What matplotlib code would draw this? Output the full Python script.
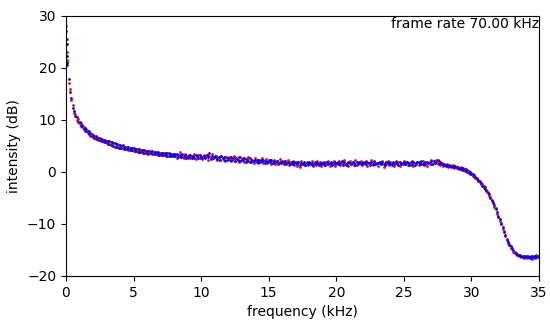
import numpy as np
import matplotlib
matplotlib.use('Agg')
import matplotlib.pyplot as plt

'''
Spectrum of two recordings, frame rate 70 kHz.
Values read off the reference picture, 0.1 kHz bins plus a few near 0.
'''

# first bins near 0 kHz
f_low = [0.0, 0.02, 0.04, 0.06, 0.08]
red_low = [31.0, 28.0, 25.5, 23.0, 21.6]
blue_low = [30.5, 27.2, 24.6, 22.4, 20.9]

# bins from 0.1 to 35.0 kHz, one row per kHz
red_db = [
    21.3, 17.2, 15.9, 13.8, 12.9, 11.4, 11.1, 10.0, 10.2, 9.3,
    9.4, 8.6, 8.7, 7.9, 8.2, 7.5, 7.8, 7.0, 7.3, 6.7,
    7.0, 6.4, 6.7, 6.1, 6.5, 5.9, 6.3, 5.8, 6.1, 5.5,
    5.9, 5.4, 5.7, 5.2, 5.5, 4.9, 5.3, 4.8, 5.1, 4.6,
    5.0, 4.6, 4.9, 4.4, 4.8, 4.3, 4.7, 4.2, 4.6, 4.1,
    4.5, 4.0, 4.4, 3.9, 4.3, 3.8, 4.2, 3.7, 4.1, 3.6,
    4.0, 3.6, 3.9, 3.5, 3.9, 3.4, 3.8, 3.3, 3.7, 3.3,
    3.7, 3.2, 3.6, 3.1, 3.6, 3.1, 3.5, 3.0, 3.4, 3.0,
    3.5, 2.7, 3.3, 3.8, 2.8, 3.2, 2.6, 3.4, 3.0, 2.7,
    3.3, 2.6, 3.1, 2.9, 3.5, 2.5, 3.0, 3.3, 2.7, 3.1,
    2.5, 3.2, 2.8, 3.3, 2.4, 3.0, 2.7, 3.4, 2.6, 2.9,
    3.1, 2.4, 2.8, 2.3, 3.0, 2.6, 2.9, 2.2, 2.8, 2.5,
    2.9, 2.1, 2.6, 3.0, 2.2, 2.7, 2.4, 2.0, 2.8, 2.3,
    2.6, 1.9, 2.5, 2.1, 2.8, 2.0, 2.4, 2.2, 1.8, 2.6,
    2.3, 1.7, 2.4, 2.0, 2.6, 1.8, 2.2, 2.5, 1.7, 2.1,
    2.4, 1.6, 2.0, 2.3, 1.5, 2.2, 1.8, 2.5, 1.7, 2.0,
    1.5, 2.2, 1.8, 2.3, 1.4, 2.0, 1.6, 2.2, 1.3, 1.9,
    1.2, 1.9, 0.9, 2.1, 1.5, 1.8, 1.3, 2.0, 1.4, 1.8,
    1.5, 2.1, 1.2, 1.8, 1.3, 2.2, 1.5, 1.7, 1.1, 1.9,
    1.4, 2.0, 1.5, 2.2, 1.2, 1.7, 1.6, 2.1, 1.2, 1.8,
    1.6, 2.2, 1.3, 1.9, 1.5, 2.3, 1.4, 1.8, 1.2, 2.1,
    1.5, 2.0, 1.3, 2.3, 1.4, 1.8, 1.7, 2.2, 1.3, 1.9,
    1.6, 2.1, 1.2, 1.8, 1.7, 2.3, 1.4, 1.9, 1.5, 1.8,
    1.1, 1.9, 1.5, 2.2, 1.0, 1.8, 1.6, 2.1, 1.3, 2.0,
    1.4, 1.8, 1.2, 2.1, 1.6, 2.0, 1.2, 1.8, 1.5, 2.1,
    1.6, 1.9, 1.3, 1.8, 1.4, 2.2, 1.1, 1.7, 1.6, 2.0,
    1.3, 1.8, 1.6, 2.2, 1.4, 1.9, 1.2, 1.8, 1.6, 2.3,
    1.5, 2.2, 1.7, 2.4, 1.5, 2.1, 1.4, 1.8, 1.2, 1.6,
    1.1, 1.5, 1.0, 1.4, 0.9, 1.3, 0.8, 1.2, 0.7, 1.0,
    0.6, 0.9, 0.4, 0.7, 0.2, 0.5, 0.0, 0.2, -0.3, -0.2,
    -0.7, -0.6, -1.2, -1.1, -1.8, -1.7, -2.4, -2.3, -3.0, -2.9,
    -3.7, -3.8, -4.6, -4.8, -5.6, -5.8, -6.7, -7.0, -8.0, -8.4,
    -9.4, -9.8, -10.9, -11.4, -12.4, -12.8, -13.7, -13.9, -14.6, -14.7,
    -15.3, -15.3, -15.8, -15.7, -16.2, -16.0, -16.4, -16.2, -16.5, -16.2,
    -16.5, -16.2, -16.6, -16.1, -16.8, -16.2, -16.5, -16.0, -16.4, -16.1,
]

blue_db = [
    20.6, 17.8, 15.3, 14.3, 12.4, 11.8, 10.7, 10.5, 9.7, 9.6,
    8.9, 9.0, 8.3, 8.4, 7.8, 7.9, 7.3, 7.5, 6.9, 7.1,
    6.6, 6.9, 6.3, 6.6, 6.2, 6.4, 5.9, 6.2, 5.8, 5.9,
    5.4, 5.9, 5.2, 5.7, 5.0, 5.5, 4.9, 5.3, 4.7, 5.1,
    4.6, 5.1, 4.5, 4.9, 4.4, 4.8, 4.2, 4.7, 4.2, 4.6,
    4.0, 4.5, 3.9, 4.4, 3.9, 4.3, 3.7, 4.2, 3.7, 4.1,
    3.5, 4.0, 3.6, 4.0, 3.4, 3.9, 3.4, 3.8, 3.3, 3.7,
    3.3, 3.7, 3.2, 3.6, 3.1, 3.6, 3.0, 3.5, 3.0, 3.4,
    3.0, 3.4, 2.8, 3.3, 2.9, 3.5, 2.8, 3.2, 2.6, 3.1,
    2.8, 3.3, 2.7, 3.1, 2.6, 3.2, 3.0, 2.7, 3.3, 2.9,
    2.6, 3.1, 2.7, 3.2, 2.8, 3.7, 2.5, 3.0, 2.6, 3.1,
    2.9, 2.5, 2.8, 2.4, 3.0, 2.6, 2.4, 2.9, 2.3, 2.7,
    2.4, 2.8, 2.3, 2.7, 2.1, 2.6, 2.4, 2.8, 2.1, 2.5,
    2.3, 2.6, 2.0, 2.5, 2.2, 2.6, 1.9, 2.4, 2.1, 2.3,
    2.0, 2.4, 1.9, 2.3, 2.1, 2.4, 1.8, 2.2, 2.0, 2.3,
    1.9, 2.3, 1.7, 2.1, 1.9, 2.2, 1.6, 2.0, 1.8, 2.1,
    1.7, 2.1, 1.6, 2.0, 1.8, 1.5, 1.9, 1.6, 2.0, 1.7,
    1.5, 1.9, 1.4, 1.8, 1.6, 2.0, 1.4, 1.8, 1.5, 1.9,
    1.6, 1.8, 1.3, 1.9, 1.5, 1.8, 1.3, 2.0, 1.5, 1.8,
    1.8, 1.4, 1.9, 1.5, 1.7, 2.0, 1.4, 1.9, 1.5, 1.8,
    1.9, 1.5, 1.7, 2.1, 1.4, 1.9, 1.6, 1.4, 2.0, 1.7,
    1.5, 1.9, 1.7, 1.4, 2.0, 1.6, 1.9, 1.5, 1.8, 1.7,
    1.9, 1.5, 2.0, 1.7, 1.4, 1.9, 1.6, 2.1, 1.5, 1.8,
    1.7, 1.9, 1.5, 2.0, 1.6, 1.4, 1.9, 1.7, 2.0, 1.5,
    1.6, 2.0, 1.5, 1.9, 1.7, 1.4, 1.9, 1.5, 1.8, 1.9,
    1.5, 1.9, 1.7, 1.4, 2.0, 1.6, 1.9, 1.4, 1.7, 2.0,
    1.9, 1.5, 2.1, 1.6, 1.8, 1.5, 2.0, 1.7, 1.9, 2.1,
    1.6, 2.2, 1.8, 2.0, 2.3, 1.7, 2.0, 1.6, 1.5, 1.3,
    1.4, 1.2, 1.3, 1.1, 1.2, 1.0, 1.1, 0.9, 1.0, 0.8,
    0.8, 0.6, 0.7, 0.4, 0.5, 0.2, 0.3, -0.1, 0.0, -0.4,
    -0.4, -0.8, -0.9, -1.4, -1.5, -2.0, -2.1, -2.6, -2.7, -3.2,
    -3.4, -4.0, -4.3, -5.0, -5.3, -6.0, -6.4, -7.2, -7.7, -8.6,
    -9.1, -10.0, -10.6, -11.6, -12.1, -13.0, -13.4, -14.1, -14.3, -14.9,
    -15.0, -15.5, -15.5, -15.9, -15.9, -16.2, -16.1, -16.4, -16.2, -16.4,
    -16.2, -16.4, -16.3, -16.5, -16.2, -16.4, -16.1, -16.3, -16.2, -16.3,
]

frame_rate_khz = 70.0

f_grid = np.round(np.arange(1, len(red_db) + 1) * 0.1, 1)
freq = np.concatenate([f_low, f_grid])
red = np.concatenate([red_low, red_db])
blue = np.concatenate([blue_low, blue_db])

fig = plt.figure(figsize=(5.5, 3.25), dpi=100)
ax = fig.add_axes([0.12, 0.1508, 0.86, 0.80])

ax.plot(freq, red, '.', color='r', ms=4, mew=0)
ax.plot(freq, blue, '.', color='b', ms=4, mew=0)

ax.set_xlim(0, 35)
ax.set_ylim(-20, 30)
ax.set_xlabel('frequency (kHz)')
ax.set_ylabel('intensity (dB)')
ax.text(1.0, 0.995, 'frame rate %.2f kHz' % frame_rate_khz,
        ha='right', va='top', transform=ax.transAxes)

fig.savefig('out.png', dpi=100)
